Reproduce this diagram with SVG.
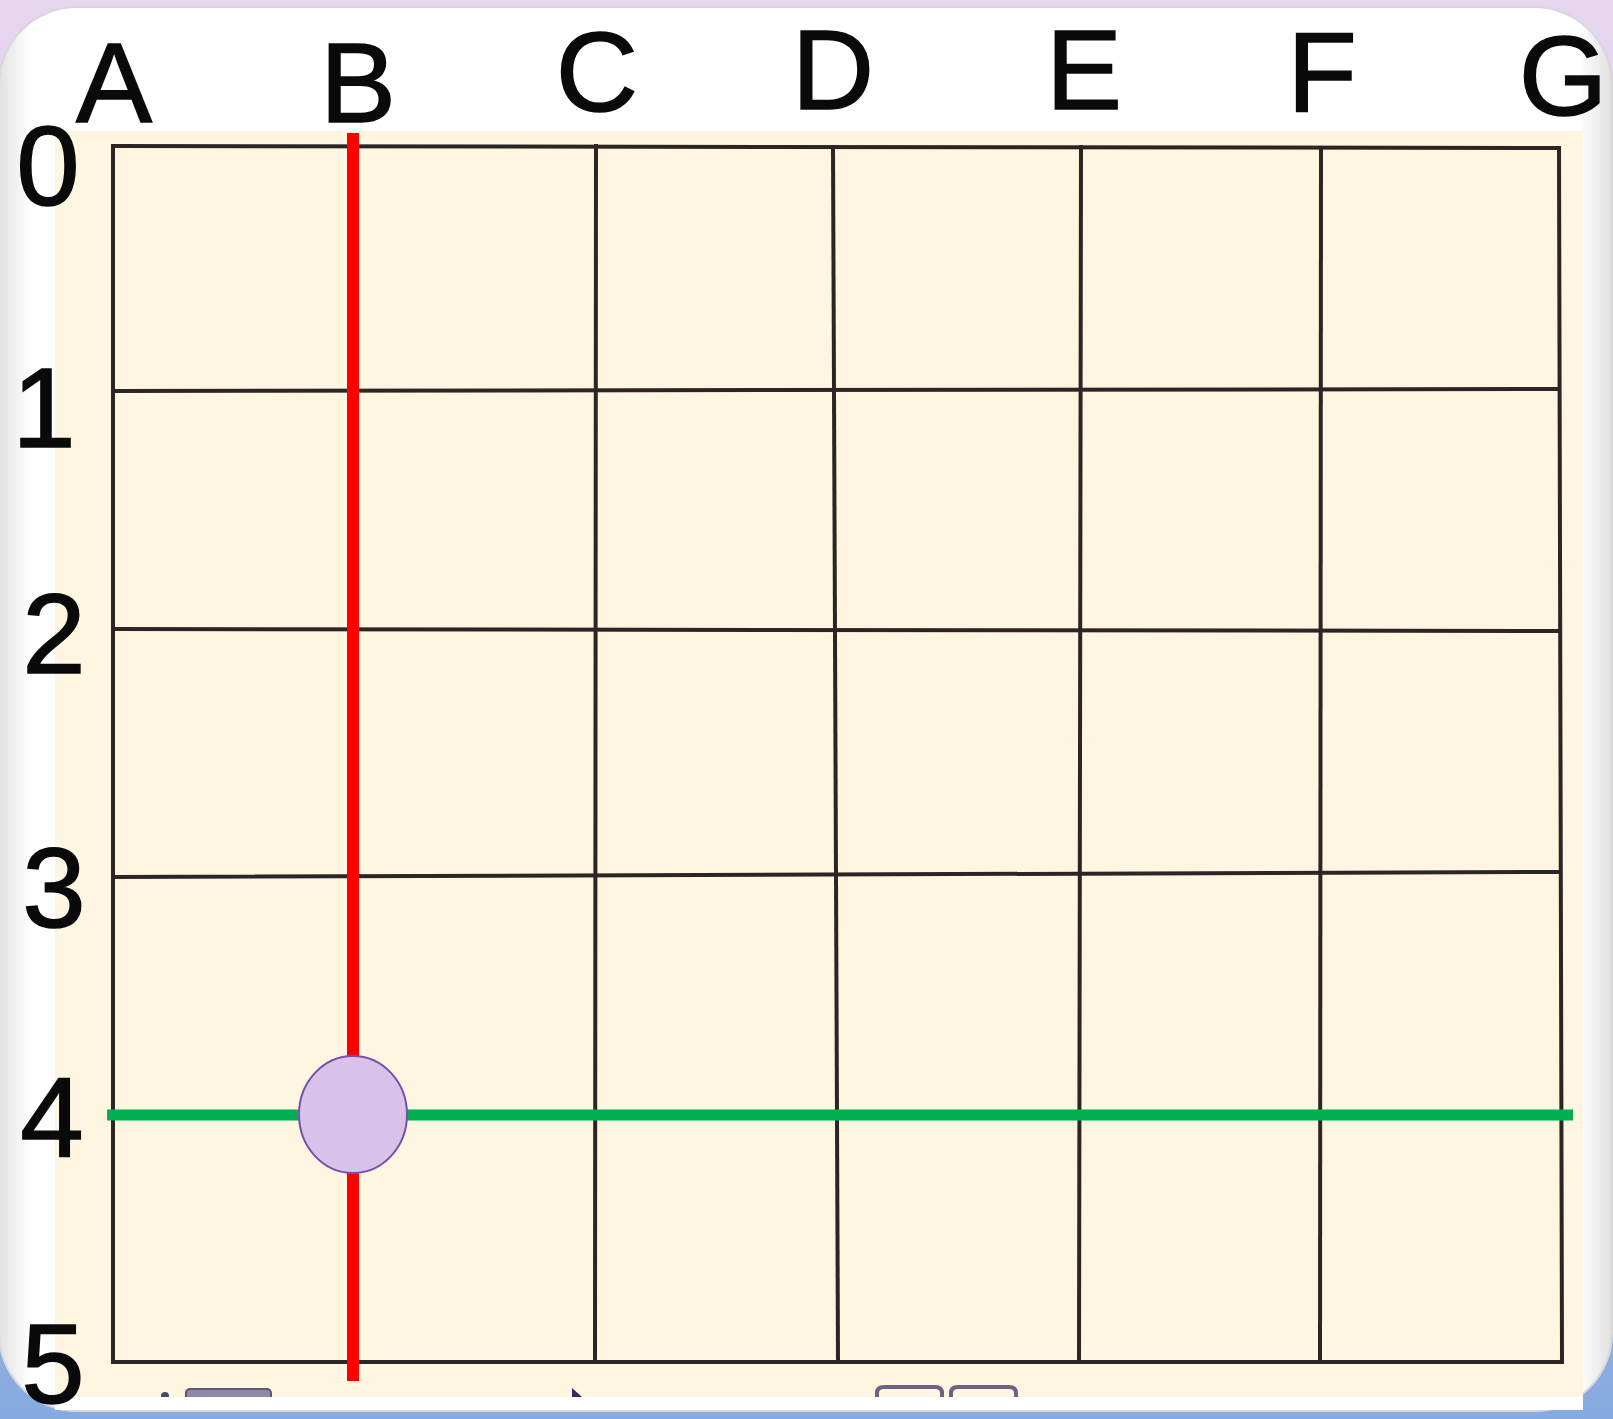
<svg xmlns="http://www.w3.org/2000/svg" width="1613" height="1419" viewBox="0 0 1613 1419">
<defs>
<linearGradient id="bg" x1="0" y1="0" x2="0" y2="1">
<stop offset="0" stop-color="#e8d6f0"/>
<stop offset="0.5" stop-color="#c9c4ea"/>
<stop offset="1" stop-color="#86aadf"/>
</linearGradient>
<linearGradient id="edge" x1="0" y1="0" x2="1" y2="0">
<stop offset="0" stop-color="#e2e2e2"/>
<stop offset="0.02" stop-color="#ffffff"/>
<stop offset="0.98" stop-color="#ffffff"/>
<stop offset="1" stop-color="#e0e0e0"/>
</linearGradient>
</defs>
<style>
.lbl{font-family:"Liberation Sans","DejaVu Sans",sans-serif;font-size:114px;fill:#0a0a0a;stroke:#0a0a0a;stroke-width:1.5;text-anchor:middle}
.grid line{stroke:#2b2525;stroke-width:4;stroke-linecap:square}
.bot{fill:none;stroke:#6d6283;stroke-width:4;stroke-linecap:round}
</style>
<rect x="0" y="0" width="1613" height="1419" fill="url(#bg)"/>
<rect id="card" x="-1" y="7" width="1613" height="1404" rx="78" fill="url(#edge)" stroke="#d8d8d8" stroke-width="2"/>
<rect id="paper" x="55" y="131" width="1528" height="1266" fill="#fff6e2"/>
<g id="bottom-marks">
<rect x="186" y="1389" width="85" height="14" rx="4" fill="#8f89a8" stroke="#5f5575" stroke-width="2"/>
<circle cx="165" cy="1396" r="4" fill="#4a4470"/>
<path d="M572 1388 L582 1397 L572 1397 Z" fill="#2e2a6a"/>
<path class="bot" d="M877 1398 V1393 Q877 1387 884 1387 H935 Q942 1387 942 1393 V1398"/>
<path class="bot" d="M951 1398 V1393 Q951 1387 958 1387 H1009 Q1016 1387 1016 1393 V1398"/>
<rect x="55" y="1397" width="1528" height="13" fill="#ffffff"/>
</g>
<g id="grid" class="grid">
<line x1="113" y1="146" x2="1559" y2="148"/>
<line x1="113" y1="391" x2="1559" y2="389"/>
<line x1="113" y1="629" x2="1559" y2="631"/>
<line x1="113" y1="877" x2="1559" y2="872"/>
<line x1="113" y1="1114" x2="1561" y2="1114"/>
<line x1="113" y1="1362" x2="1562" y2="1362"/>
<line x1="113" y1="146" x2="113" y2="1362"/>
<line x1="353" y1="146" x2="353" y2="1362"/>
<line x1="596" y1="146" x2="595" y2="1362"/>
<line x1="833" y1="147" x2="838" y2="1362"/>
<line x1="1081" y1="147" x2="1079" y2="1362"/>
<line x1="1321" y1="148" x2="1320" y2="1362"/>
<line x1="1559" y1="148" x2="1562" y2="1362"/>
</g>
<g id="col-labels">
<text class="lbl" x="114" y="122">A</text>
<text class="lbl" x="358" y="122">B</text>
<text class="lbl" x="597" y="111">C</text>
<text class="lbl" x="833" y="109">D</text>
<text class="lbl" x="1084" y="109">E</text>
<text class="lbl" x="1322" y="112">F</text>
<text class="lbl" x="1563" y="115">G</text>
</g>
<g id="row-labels">
<text class="lbl" x="48" y="205">0</text>
<text class="lbl" x="44" y="447">1</text>
<text class="lbl" x="54" y="673">2</text>
<text class="lbl" x="54" y="927">3</text>
<text class="lbl" x="52" y="1157">4</text>
<text class="lbl" x="53" y="1403">5</text>
</g>
<g id="connectors">
<line id="red-line" x1="353" y1="133" x2="353" y2="1381" stroke="#ff0000" stroke-width="12"/>
<line id="green-line" x1="107" y1="1115" x2="1573" y2="1115" stroke="#00b050" stroke-width="11"/>
</g>
<g id="point-B4">
<ellipse cx="353" cy="1114.5" rx="54" ry="58.5" fill="#d9c2ea" stroke="#7a4fa8" stroke-width="2"/>
</g>
</svg>
